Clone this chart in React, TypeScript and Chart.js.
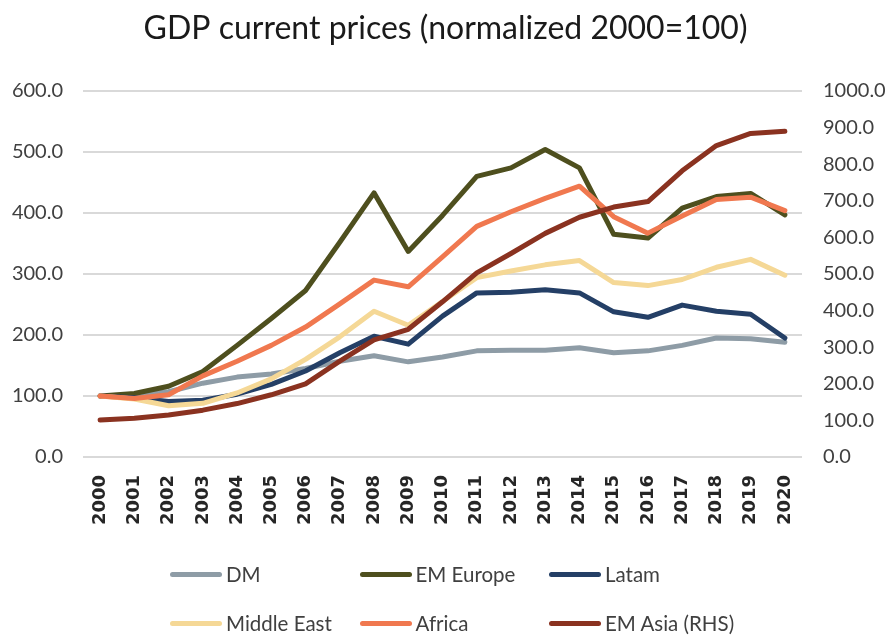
import React, { useEffect, useRef } from "react";
import { Chart, registerables } from "chart.js";

Chart.register(...registerables);

const years = [
  "2000", "2001", "2002", "2003", "2004", "2005", "2006", "2007", "2008", "2009", "2010",
  "2011", "2012", "2013", "2014", "2015", "2016", "2017", "2018", "2019", "2020",
];

const seriesNames = ["DM", "EM Europe", "Latam", "Middle East", "Africa", "EM Asia (RHS)"];

const dm = [100, 102, 107, 121, 131, 136, 145, 157, 166, 156, 164, 174, 175, 175, 179, 171, 174, 183, 195, 194, 188];
const emEurope = [100, 104, 116, 140, 183, 227, 273, 352, 433, 337, 396, 460, 474, 504, 474, 365, 359, 408, 427, 432, 397];
const latam = [100, 97, 91, 93, 103, 119, 141, 171, 198, 185, 231, 269, 270, 274, 269, 238, 229, 249, 239, 234, 195];
const middleEast = [100, 95, 84, 88, 105, 128, 160, 197, 239, 216, 255, 294, 305, 315, 322, 286, 281, 291, 311, 324, 298];
const africa = [100, 96, 102, 133, 157, 183, 213, 251, 290, 279, 328, 378, 402, 424, 444, 394, 367, 395, 422, 426, 404];
const emAsia = [101, 106, 115, 128, 146, 170, 200, 262, 320, 349, 424, 503, 556, 611, 655, 683, 698, 782, 851, 884, 890];

const seriesColors = ["#8E9CA6", "#4E4F1E", "#243F66", "#F5D896", "#F0784F", "#8A3220"];

const leftTicks = [0, 100, 200, 300, 400, 500, 600];
const rightTicks = [0, 100, 200, 300, 400, 500, 600, 700, 800, 900, 1000];

const FONT = "Lato, 'Liberation Sans', sans-serif";

export default function App() {
  const ref = useRef<HTMLCanvasElement>(null);

  useEffect(() => {
    const values = [dm, emEurope, latam, middleEast, africa, emAsia];
    const chart = new Chart(ref.current as HTMLCanvasElement, {
      type: "line",
      data: {
        labels: years,
        datasets: seriesNames.map((name, i) => ({
          label: name,
          data: values[i],
          borderColor: seriesColors[i],
          backgroundColor: seriesColors[i],
          borderWidth: 5,
          pointRadius: 0,
          pointHoverRadius: 0,
          tension: 0,
          borderCapStyle: "round" as const,
          borderJoinStyle: "round" as const,
          yAxisID: i === 5 ? "y1" : "y",
          order: 5 - i,
        })),
      },
      options: {
        responsive: false,
        animation: false,
        events: [],
        layout: { padding: { top: 0, bottom: 96, left: 0, right: 0 } },
        plugins: {
          legend: { display: false },
          tooltip: { enabled: false },
          title: {
            display: true,
            text: "GDP current prices (normalized 2000=100)",
            color: "#1a1a1a",
            font: { family: FONT, size: 32, weight: "normal", lineHeight: 1.2 },
            padding: { top: 9, bottom: 43.6 },
          },
        },
        scales: {
          x: {
            offset: true,
            grid: { display: false, drawTicks: false },
            border: { display: false },
            ticks: {
              minRotation: 90,
              maxRotation: 90,
              autoSkip: false,
              padding: 18,
              color: "#262626",
              font: { family: "'DejaVu Sans', sans-serif", size: 18, weight: "bold" },
            },
            afterFit: (s: any) => {
              s.height = 83;
            },
          },
          y: {
            position: "left",
            min: leftTicks[0],
            max: leftTicks[leftTicks.length - 1],
            afterBuildTicks: (s: any) => {
              s.ticks = leftTicks.map((v) => ({ value: v }));
            },
            ticks: {
              padding: 20,
              color: "#404040",
              font: { family: FONT, size: 20 },
              callback: (v: any) => Number(v).toFixed(1),
            },
            grid: { color: "#d9d9d9", lineWidth: 2, drawTicks: false },
            border: { display: false },
            afterFit: (s: any) => {
              s.width = 83;
            },
          },
          y1: {
            position: "right",
            min: rightTicks[0],
            max: rightTicks[rightTicks.length - 1],
            afterBuildTicks: (s: any) => {
              s.ticks = rightTicks.map((v) => ({ value: v }));
            },
            ticks: {
              padding: 21,
              color: "#404040",
              font: { family: FONT, size: 20 },
              callback: (v: any) => Number(v).toFixed(1),
            },
            grid: { display: false, drawTicks: false },
            border: { display: false },
            afterFit: (s: any) => {
              s.width = 89;
            },
          },
        },
      },
    });
    return () => chart.destroy();
  }, []);

  return (
    <div style={{ position: "absolute", left: 0, top: 0, width: 891, height: 636, background: "#fff" }}>
      <canvas ref={ref} width={891} height={636} style={{ display: "block" }} />
      {seriesNames.map((name, i) => {
        const col = i % 3;
        const row = Math.floor(i / 3);
        return (
          <div
            key={name}
            style={{
              position: "absolute",
              left: 170 + col * 189.5,
              top: 574 + row * 49 - 13,
              height: 26,
              display: "flex",
              alignItems: "center",
              fontFamily: FONT,
              fontSize: 20.5,
              color: "#404040",
              whiteSpace: "nowrap",
            }}
          >
            <span
              style={{
                display: "inline-block",
                width: 52,
                height: 5,
                borderRadius: 3,
                background: seriesColors[i],
                marginRight: 4,
              }}
            />
            <span>{name}</span>
          </div>
        );
      })}
    </div>
  );
}
